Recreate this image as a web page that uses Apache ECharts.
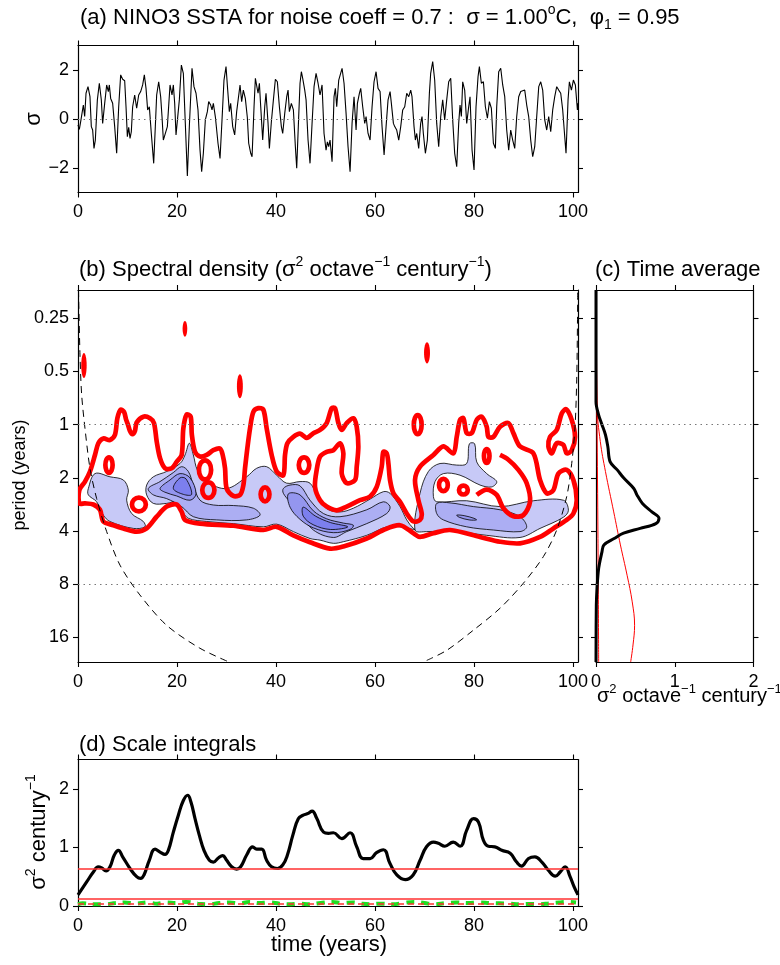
<!DOCTYPE html>
<html><head><meta charset="utf-8">
<script src="https://cdn.jsdelivr.net/npm/echarts@6/dist/echarts.min.js"></script>
<style>html,body{margin:0;padding:0;background:#fff}#chart{width:780px;height:965px}</style>
</head><body><div id="chart"></div>
<script>
// ---------------- DATA ----------------
const timeTicks = [0, 20, 40, 60, 80, 100];
const sstTicks = [-2, 0, 2];
const periodTicks = [0.25, 0.5, 1, 2, 4, 8, 16];
const periodLabels = ['0.25', '0.5', '1', '2', '4', '8', '16'];
const powerTicks = [0, 1, 2];
const integralTicks = [0, 1, 2];

// (a) NINO3 SSTA [time (yr), sigma]
const sstSeries = [[0.0,-0.24],[0.27,-0.42],[0.54,-0.11],[0.81,-0.18],[1.08,0.57],[1.35,0.10],[1.62,1.05],[2.02,1.32],[2.42,0.91],[2.69,-0.31],[2.96,-0.45],[3.23,-1.20],[3.50,-0.86],[3.91,0.78],[4.31,1.46],[4.71,0.78],[4.98,-0.18],[5.39,0.64],[5.79,1.39],[6.13,1.12],[6.33,1.39],[6.60,0.84],[7.00,0.64],[7.41,-0.31],[7.81,-1.40],[8.22,0.50],[8.62,1.80],[9.02,1.62],[9.43,1.56],[9.70,0.50],[9.97,-0.72],[10.24,-0.34],[10.51,-0.79],[10.77,-0.52],[11.04,0.50],[11.45,0.98],[11.85,0.44],[12.26,0.98],[12.66,1.12],[13.06,1.39],[13.40,1.80],[13.74,1.25],[14.07,0.37],[14.41,0.50],[14.81,-0.59],[15.29,-1.81],[15.62,-0.31],[15.89,0.98],[16.30,1.52],[16.70,0.91],[16.97,0.10],[17.24,-0.86],[17.64,-0.93],[18.05,-0.31],[18.59,1.39],[18.99,0.98],[19.26,1.39],[19.53,0.64],[19.80,-0.65],[20.07,-0.72],[20.47,0.78],[20.88,2.20],[21.28,1.86],[21.68,-0.18],[22.09,-2.33],[22.49,-0.31],[23.03,2.07],[23.43,1.32],[23.84,1.05],[24.24,0.37],[24.65,-1.27],[24.98,-2.15],[25.32,-1.40],[25.72,-0.04],[26.13,0.30],[26.40,0.71],[26.80,0.57],[27.07,0.37],[27.34,0.64],[27.74,0.10],[28.28,-0.99],[28.69,-1.61],[29.09,-0.04],[29.49,1.59],[29.90,2.14],[30.24,1.18],[30.57,0.30],[30.84,0.64],[31.25,-0.31],[31.65,-0.65],[32.05,0.30],[32.32,0.37],[32.73,1.39],[33.06,0.71],[33.40,1.18],[33.80,0.84],[34.21,0.05],[34.48,-0.99],[34.89,-1.40],[35.16,-1.54],[35.56,0.50],[35.83,1.66],[36.10,1.70],[36.37,1.05],[36.64,1.46],[36.91,0.50],[37.31,-0.86],[37.72,0.50],[37.98,1.05],[38.39,-0.18],[38.66,-1.20],[39.06,-0.11],[39.47,0.78],[39.87,1.62],[40.27,1.52],[40.68,0.50],[41.08,-0.31],[41.35,-0.59],[41.76,0.23],[42.16,0.91],[42.43,1.18],[42.70,0.30],[43.10,0.64],[43.51,0.37],[43.91,-1.13],[44.18,-2.01],[44.58,0.10],[44.85,1.46],[45.12,1.93],[45.39,1.66],[45.80,1.18],[46.07,0.78],[46.47,-0.86],[46.87,-1.81],[47.28,-0.18],[47.68,1.32],[48.09,1.86],[48.49,1.46],[48.89,0.98],[49.30,1.39],[49.70,-0.59],[50.11,-1.27],[50.38,-0.93],[50.64,-1.13],[50.91,-0.86],[51.32,-1.74],[51.72,0.91],[51.99,1.25],[52.26,0.50],[52.67,1.59],[52.93,1.66],[53.34,2.07],[53.74,1.46],[54.15,0.23],[54.55,-1.13],[54.96,-2.15],[55.36,-0.18],[55.76,0.91],[56.17,-0.45],[56.44,0.64],[56.84,1.05],[57.11,1.25],[57.51,0.50],[57.92,-0.18],[58.19,0.10],[58.59,-0.59],[59.00,-0.86],[59.40,0.50],[59.80,1.52],[60.21,1.93],[60.61,1.25],[61.02,1.12],[61.42,-0.31],[61.83,-1.47],[62.23,-0.31],[62.63,0.78],[63.04,1.12],[63.30,0.64],[63.71,-0.18],[63.98,-0.31],[64.38,-0.45],[64.79,-0.86],[65.19,-0.31],[65.59,0.37],[66.00,0.50],[66.40,1.05],[66.81,0.91],[67.21,1.18],[67.47,0.91],[67.88,-0.31],[68.15,-0.86],[68.42,-0.59],[68.82,-1.20],[69.22,-0.18],[69.49,0.10],[69.76,-0.59],[70.17,-1.40],[70.57,-0.86],[70.98,1.05],[71.24,1.86],[71.65,2.34],[72.05,1.59],[72.46,-0.18],[72.86,-1.13],[73.27,0.10],[73.67,0.78],[74.07,-0.04],[74.48,0.78],[74.88,1.52],[75.29,1.66],[75.69,-0.04],[76.09,-1.40],[76.50,-1.95],[76.90,-0.18],[77.17,0.57],[77.44,0.10],[77.71,1.52],[78.11,1.18],[78.52,-0.18],[78.92,0.50],[79.19,0.91],[79.60,-1.27],[80.00,-2.08],[80.40,0.50],[80.81,1.73],[81.08,2.14],[81.48,1.46],[81.89,1.52],[82.29,0.50],[82.70,0.03],[83.10,0.71],[83.50,0.44],[83.91,-0.99],[84.31,-1.20],[84.58,0.50],[84.98,1.93],[85.39,2.07],[85.79,1.39],[86.20,0.91],[86.60,-0.45],[87.00,-1.27],[87.41,-0.45],[87.81,-0.86],[88.22,-1.20],[88.62,0.10],[89.02,0.91],[89.43,1.12],[89.83,1.05],[90.24,1.18],[90.64,0.57],[91.04,0.10],[91.45,-0.86],[91.85,-1.54],[92.26,-1.13],[92.66,0.10],[93.07,1.32],[93.47,1.52],[93.87,1.18],[94.28,-0.04],[94.68,-0.45],[95.08,0.10],[95.49,-0.52],[95.89,0.37],[96.30,0.91],[96.70,1.32],[97.10,1.18],[97.51,1.05],[97.91,0.37],[98.32,-0.72],[98.58,-1.40],[98.99,0.78],[99.26,1.52],[99.67,1.18],[100.07,1.59],[100.47,1.39],[100.88,0.37],[101.0,0.64]];

// (b) contours: [time (yr), log2 period (octave)]
const blueLevel1 = [
 [[2.09,1.20],[3.43,0.92],[6.46,0.98],[9.16,1.04],[10.17,1.23],[9.83,1.42],[10.84,1.67],[13.2,1.82],[13.54,1.92],[11.18,1.95],[6.46,1.82],[5.12,1.70],[3.77,1.45],[2.09,1.32]],
 [[13.87,1.135],[15.22,0.98],[17.91,0.88],[20.61,0.73],[21.62,0.57],[22.49,0.35],[23.3,0.57],[24.1,0.85],[25.99,1.07],[30.03,1.20],[34.07,0.98],[36.09,0.82],[38.11,0.79],[40.13,0.95],[42.15,1.10],[44.85,1.07],[46.87,1.10],[48.4,1.35],[50.24,1.58],[52.93,1.64],[55.62,1.57],[58.99,1.40],[61.68,1.26],[63.03,1.29],[65.05,1.54],[66.4,1.79],[67.75,1.95],[68.42,1.98],[65.05,1.92],[62.36,1.92],[58.32,2.08],[53.6,2.20],[51.58,2.23],[48.89,2.17],[46.87,2.14],[43.5,2.01],[40.13,1.87],[37.44,1.92],[31.38,1.86],[25.99,1.82],[22.29,1.76],[20.94,1.61],[19.93,1.45],[17.91,1.48],[15.22,1.48],[13.87,1.32]],
 [[68.08,1.98],[69.09,1.29],[70.78,0.88],[73.13,0.73],[76.5,0.76],[78.52,0.73],[79.06,0.36],[80.13,0.36],[80.54,0.70],[82.56,0.92],[84.58,1.07],[83.57,1.17],[81.21,1.135],[77.17,0.95],[73.81,0.92],[72.12,1.07],[71.79,1.35],[72.46,1.45],[78.52,1.43],[85.25,1.54],[91.99,1.43],[98.05,1.42],[99.06,1.61],[98.05,1.74],[93.33,1.95],[89.29,2.12],[82.56,2.08],[75.15,1.99],[70.44,2.01]]
];
const blueLevel2 = [
 [[14.2,1.20],[16.57,1.07],[19.26,0.90],[20.94,0.79],[22.29,0.88],[23.3,1.135],[24.65,1.42],[27.34,1.51],[31.38,1.52],[35.42,1.57],[36.77,1.70],[34.07,1.79],[28.01,1.79],[23.3,1.73],[20.94,1.54],[17.91,1.39],[15.22,1.32]],
 [[41.48,1.20],[42.83,1.135],[44.85,1.15],[46.87,1.42],[49.56,1.67],[52.93,1.73],[58.32,1.60],[61.68,1.45],[63.03,1.54],[62.36,1.67],[58.32,1.86],[54.28,2.01],[51.58,2.12],[47.54,1.98],[44.85,1.66],[42.83,1.45],[41.48,1.29]],
 [[72.46,1.48],[75.15,1.47],[79.87,1.54],[85.25,1.60],[89.29,1.73],[90.64,1.92],[89.29,2.01],[83.91,1.98],[78.52,1.92],[73.81,1.79],[72.46,1.67]]
];
const blueLevel3 = [
 [[16.57,1.20],[18.59,1.04],[20.61,0.92],[22.63,1.00],[23.84,1.30],[22.63,1.42],[19.93,1.34],[17.58,1.27]],
 [[42.5,1.30],[44.85,1.32],[47.54,1.62],[50.24,1.77],[53.6,1.85],[55.62,1.89],[54.95,1.97],[51.58,2.03],[47.54,1.94],[44.85,1.78],[42.83,1.55]],
 [[76.5,1.70],[78,1.71],[80,1.76],[80.5,1.79],[79,1.79],[77,1.74]]
];
const blueLevel4 = [
 [[19.26,1.20],[20.61,1.00],[21.82,1.02],[22.96,1.31],[21.28,1.31]],
 [[45.5,1.55],[48,1.72],[51,1.84],[54.5,1.92],[51,1.97],[47.5,1.88],[45.5,1.72]]
];
const signifClosed = [
 [[0.27,1.48],[0.27,1.23],[1.41,1.07],[2.42,0.88],[3.43,0.57],[4.11,0.35],[5.12,0.26],[6.46,0.29],[7.47,0.19],[7.95,-0.12],[8.6,-0.28],[9.3,-0.24],[9.7,-0.10],[10.1,0.0],[10.5,0.12],[11.0,0.18],[11.5,0.12],[11.85,-0.04],[13.2,-0.15],[14.55,-0.12],[15.35,-0.03],[15.9,0.32],[16.57,0.63],[17.58,0.82],[18.92,0.82],[19.93,0.70],[20.94,0.57],[21.28,0.07],[21.95,-0.19],[22.76,-0.15],[23.0,0.19],[23.64,0.51],[24.65,0.60],[25.99,0.57],[27.34,0.48],[28.69,0.45],[29.23,0.57],[29.7,0.82],[30.03,1.20],[31.38,1.34],[32.73,1.32],[33.4,1.14],[33.74,0.82],[34.2,0.45],[34.75,0.07],[35.42,-0.24],[36.43,-0.31],[37.44,-0.28],[38.11,0.07],[39.12,0.57],[40.13,0.88],[41.48,0.95],[41.82,0.57],[42.3,0.35],[43.5,0.23],[44.85,0.17],[46.2,0.25],[47.54,0.16],[48.89,0.10],[50.24,-0.03],[51.25,-0.31],[51.92,-0.31],[52.59,-0.03],[53.27,0.10],[54.28,-0.03],[55.62,-0.12],[56.3,0.04],[56.63,0.41],[56.3,0.79],[55.96,1.04],[54.28,1.10],[53.27,0.92],[53.6,0.54],[52.93,0.35],[51.58,0.48],[50.24,0.51],[48.89,0.60],[48.22,0.85],[47.88,1.17],[48.89,1.42],[50.24,1.54],[52.26,1.61],[54.28,1.54],[56.97,1.42],[58.99,1.35],[60.34,1.17],[61.35,0.79],[61.68,0.51],[62.36,0.54],[62.7,0.73],[63.03,1.04],[63.71,1.29],[65.05,1.45],[66.4,1.67],[67.75,1.82],[69.09,1.79],[69.43,1.67],[68.76,1.42],[68.08,1.04],[69.09,0.79],[71.79,0.57],[73.81,0.41],[75.83,0.54],[76.5,0.23],[77.17,-0.09],[77.85,-0.12],[78.52,0.16],[79.53,0.16],[80.54,-0.09],[81.55,-0.15],[82.56,0.04],[82.9,0.23],[83.91,0.23],[85.25,0.04],[86.94,-0.03],[87.95,0.16],[89.29,0.41],[91.99,0.54],[93.33,1.04],[94.68,1.29],[96.03,1.23],[97.04,0.92],[98.72,0.85],[100.07,1.04],[100.74,1.42],[100.07,1.67],[98.72,1.79],[96.03,1.95],[93.33,2.11],[89.29,2.23],[85.25,2.20],[81.21,2.11],[75.15,1.98],[71.79,2.04],[69.09,2.11],[67.75,2.04],[65.05,1.89],[61.68,1.98],[58.32,2.14],[53.6,2.29],[50.91,2.33],[46.87,2.21],[43.5,2.08],[40.13,1.92],[37.44,1.98],[31.38,1.90],[24.65,1.86],[21.62,1.79],[20.94,1.64],[19.93,1.50],[17.91,1.54],[15.89,1.73],[13.87,1.95],[11.85,2.01],[9.16,1.95],[7.14,1.89],[5.12,1.82],[4.44,1.60],[3.1,1.50],[1.41,1.48]],
 [[95.02,0.41],[95.35,0.23],[96.7,0.10],[97.71,-0.21],[98.6,-0.29],[99.73,-0.09],[100.4,0.23],[99.73,0.48],[98.72,0.54],[98.05,0.38],[96.7,0.35],[95.69,0.54]]
];
const signifOpen = [
 [[80.54,1.32],[82.56,1.22],[84.58,1.32],[85.93,1.57],[87.95,1.72],[89.96,1.70],[91.31,1.45],[90.64,1.10],[88.96,0.85],[86.94,0.66],[85.25,0.57]]
];
// small closed significance loops: [time, octave, half-width (yr), half-height (octave)]
const signifRings = [[6.26,0.76,0.73,0.146],[12.3,1.50,1.4,0.13],[25.66,0.85,1.23,0.18],[26.33,1.23,1.23,0.146],[37.78,1.31,0.89,0.13],[45.66,0.76,1.06,0.146],[68.62,0.0,0.79,0.18],[82.56,0.59,0.56,0.13],[73.81,1.135,0.89,0.115],[77.85,1.23,0.89,0.083]];
const signifBlobs = [[1.2,-1.11,0.55,0.235],[21.6,-1.80,0.47,0.147],[32.7,-0.72,0.6,0.225],[70.5,-1.35,0.6,0.2]];
// cone of influence [time, octave]
const coiLeft = [[0.1,-2.53],[0.4,-1.31],[0.74,-0.56],[1.41,0.07],[2.42,0.82],[3.77,1.39],[5.79,2.01],[8.48,2.64],[12.5,3.2],[17.9,3.77],[24.6,4.2],[30.5,4.46]];
const coiRight = [[70.44,4.43],[74.5,4.24],[79.9,3.86],[85.25,3.45],[89.96,2.98],[94,2.48],[96.7,1.98],[98.72,1.35],[99.73,0.73],[100.4,0.04],[100.74,-0.84],[100.9,-1.97],[100.95,-2.53]];

// (c) time average [power, octave]
const globalPower = [[0,-2.53],[0,-0.43],[0.034,-0.18],[0.076,0.0],[0.12,0.19],[0.15,0.41],[0.18,0.70],[0.27,0.85],[0.35,1.0],[0.48,1.2],[0.52,1.32],[0.59,1.48],[0.71,1.64],[0.80,1.76],[0.76,1.86],[0.56,1.95],[0.35,2.04],[0.23,2.14],[0.10,2.26],[0.076,2.39],[0.034,2.70],[0.013,3.08],[0.004,3.39],[0,4.46]];
const globalSignif = [[0,-2.53],[0.013,-0.37],[0.055,0.32],[0.12,0.88],[0.225,1.64],[0.31,2.26],[0.395,2.83],[0.46,3.33],[0.49,3.77],[0.47,4.14],[0.44,4.46]];
const globalRed = [[0,-2.53],[0.013,-0.06],[0.025,2.14],[0.034,4.46]];

// (d) scale integrals [time, sigma^2 / century]
const scaleIntegral = [[0,0.19],[1.75,0.41],[3.1,0.58],[4.1,0.67],[4.8,0.65],[5.66,0.60],[6.46,0.67],[7.34,0.87],[8.15,0.95],[9.02,0.84],[10.5,0.64],[11.85,0.50],[12.66,0.47],[13.33,0.53],[14.4,0.78],[15.56,0.97],[16.57,0.92],[17.58,0.88],[18.25,0.95],[19.26,1.26],[20.27,1.55],[21.28,1.80],[22.15,1.89],[22.83,1.77],[23.64,1.49],[24.5,1.21],[25.45,0.95],[26.53,0.78],[27.34,0.75],[28.35,0.82],[29.23,0.86],[30.03,0.78],[31.04,0.67],[32.05,0.63],[32.86,0.67],[34.07,0.87],[35.29,1.01],[36.09,0.97],[37.1,0.97],[38.1,0.78],[39.1,0.67],[40.27,0.64],[41.35,0.70],[42.3,0.87],[43.4,1.21],[44.5,1.49],[45.5,1.55],[46.5,1.58],[47.3,1.62],[48.2,1.50],[49.6,1.26],[50.6,1.24],[51.6,1.25],[53.3,1.15],[54.95,1.25],[56.3,1.01],[57.6,0.81],[59.0,0.81],[60.3,0.91],[61.7,0.96],[63.0,0.73],[64.4,0.53],[66.1,0.45],[67.7,0.53],[69.1,0.78],[70.4,1.01],[71.8,1.09],[72.8,1.07],[74.1,1.02],[75.8,1.09],[77.2,1.02],[78.5,1.29],[79.9,1.49],[80.9,1.43],[81.9,1.12],[82.9,1.02],[84.2,1.01],[85.6,0.95],[87.3,0.90],[88.6,0.75],[89.6,0.68],[91.0,0.81],[92.3,0.84],[93.7,0.75],[95.0,0.61],[96.4,0.51],[97.4,0.58],[98.4,0.67],[99.4,0.50],[100.2,0.33],[101,0.19]];
const highFreqIntegral = [[0,0.03],[0.94,0.045],[3.3,0.03],[5.66,0.03],[7.5,0.05],[9.36,0.06],[11.7,0.04],[14.07,0.06],[16,0.04],[17.78,0.06],[19.8,0.05],[21.8,0.07],[24.2,0.04],[26.5,0.03],[28.5,0.05],[30.6,0.06],[32.6,0.04],[34.6,0.07],[36.6,0.05],[38.65,0.06],[40.7,0.04],[42.7,0.03],[44.7,0.04],[46.7,0.03],[49,0.05],[51.4,0.07],[53.4,0.05],[55.5,0.06],[57.2,0.04],[58.9,0.03],[61.2,0.04],[63.6,0.03],[65.7,0.05],[67.9,0.07],[70,0.05],[72.0,0.03],[74.2,0.05],[76.4,0.06],[78.7,0.05],[81.1,0.06],[83.1,0.05],[85.1,0.045],[87.1,0.04],[89.2,0.03],[91.2,0.035],[93.2,0.03],[95.2,0.045],[97.2,0.06],[98.9,0.07],[100.6,0.06]];
const integralSignifLevels = [0.635, 0.115];
const integralSignifDashed = [0.04];
const periodGuides = [1, 8];

// ---------------- CHART ----------------
const FONT = '"Liberation Sans", Arial, Helvetica, sans-serif';
const octTicks = periodTicks.map(p => Math.log2(p));
const octGuides = periodGuides.map(p => Math.log2(p));
const OCT_MIN = -2.53, OCT_MAX = 4.46;

function periodFmt(v) {
  let best = 0;
  octTicks.forEach((o, i) => { if (Math.abs(o - v) < Math.abs(octTicks[best] - v)) best = i; });
  return periodLabels[best];
}
function axis(kind, grid, min, max, ticks, pos, labels, extra) {
  const a = {
    type: 'value', gridIndex: grid, min: min, max: max, position: pos,
    axisLine: {show: true, onZero: false, lineStyle: {color: '#000', width: 1.2}},
    axisTick: {show: true, inside: false, length: 5, customValues: ticks, lineStyle: {color: '#000', width: 1.1}},
    axisLabel: {show: !!labels, customValues: ticks, margin: kind === 'x' ? 11 : 9, color: '#000', fontSize: 18, fontFamily: FONT,
      formatter: typeof labels === 'function' ? labels : (v => String(v).replace('-', '\u2212'))},
    splitLine: {show: false}, splitArea: {show: false}
  };
  return Object.assign(a, extra || {});
}
function guides(vals, color) {
  return {silent: true, symbol: ['none', 'none'], label: {show: false}, animation: false,
    lineStyle: {color: color || '#777', type: [1.5, 4], width: 1}, emphasis: {disabled: true},
    data: vals.map(v => ({yAxis: v}))};
}
function polyLayer(list, style, closed, smooth) {
  return {
    type: 'custom', xAxisIndex: 2, yAxisIndex: 2, clip: true, silent: true, animation: false,
    data: list.map((p, i) => [p[0][0], p[0][1], i]),
    renderItem: function (params, api) {
      const pts = list[params.dataIndex].map(q => api.coord(q));
      return {type: closed ? 'polygon' : 'polyline', shape: {points: pts, smooth: smooth}, style: Object.assign({}, style)};
    }
  };
}
function ellipseLayer(list, style) {
  return {
    type: 'custom', xAxisIndex: 2, yAxisIndex: 2, clip: true, silent: true, animation: false,
    data: list,
    renderItem: function (params, api) {
      const c = api.coord([api.value(0), api.value(1)]);
      const s = api.size([api.value(2), api.value(3)]);
      return {type: 'ellipse', shape: {cx: c[0], cy: c[1], rx: s[0], ry: s[1]}, style: Object.assign({}, style)};
    }
  };
}
const blueColors = ['#c7c9f7', '#acaef3', '#9496ef', '#7c7fee'];
const blueStyle = i => ({fill: blueColors[i], stroke: '#000', lineWidth: 0.8});
const redStroke = {fill: 'none', stroke: '#ff0000', lineWidth: 4.7, lineJoin: 'round'};

function richFor(size) {
  const s = Math.round(size * 0.64);
  return {
    sup: {fontSize: s, fontFamily: FONT, fill: '#000', verticalAlign: 'top', lineHeight: s},
    sub: {fontSize: s, fontFamily: FONT, fill: '#000', verticalAlign: 'bottom', lineHeight: s}
  };
}
function txt(x, y, text, size, align, rot) {
  return {type: 'text', x: x, y: y, rotation: rot || 0, silent: true, z: 100,
    style: {text: text, fontSize: size, fontFamily: FONT, fill: '#000', lineHeight: Math.round(size * 1.3),
      align: align || 'left', verticalAlign: 'middle', rich: richFor(size)}};
}

const option = {
  animation: false,
  backgroundColor: '#fff',
  grid: [
    {left: 78, top: 45.5, width: 500, height: 147},
    {left: 78, top: 290, width: 500, height: 372},
    {left: 596, top: 290, width: 157.5, height: 372},
    {left: 78, top: 759.5, width: 500, height: 146.5}
  ],
  xAxis: [
    axis('x', 0, 0, 101, timeTicks, 'bottom', true), axis('x', 0, 0, 101, timeTicks, 'top', false),
    axis('x', 1, 0, 101, timeTicks, 'bottom', true), axis('x', 1, 0, 101, timeTicks, 'top', false),
    axis('x', 2, 0, 2, powerTicks, 'bottom', true), axis('x', 2, 0, 2, powerTicks, 'top', false),
    axis('x', 3, 0, 101, timeTicks, 'bottom', true), axis('x', 3, 0, 101, timeTicks, 'top', false)
  ],
  yAxis: [
    axis('y', 0, -3, 3, sstTicks, 'left', true), axis('y', 0, -3, 3, sstTicks, 'right', false),
    axis('y', 1, OCT_MIN, OCT_MAX, octTicks, 'left', periodFmt, {inverse: true}),
    axis('y', 1, OCT_MIN, OCT_MAX, octTicks, 'right', false, {inverse: true}),
    axis('y', 2, OCT_MIN, OCT_MAX, octTicks, 'left', false, {inverse: true}),
    axis('y', 2, OCT_MIN, OCT_MAX, octTicks, 'right', false, {inverse: true}),
    axis('y', 3, 0, 2.5, integralTicks, 'left', true), axis('y', 3, 0, 2.5, integralTicks, 'right', false)
  ],
  graphic: [
    txt(80, 18, '(a) NINO3 SSTA for noise coeff = 0.7 :  \u03c3 = 1.00{sup|o}C,  \u03c6{sub|1} = 0.95', 22),
    txt(79, 270, '(b) Spectral density (\u03c3{sup|2} octave{sup|\u22121} century{sup|\u22121})', 22),
    txt(595, 270, '(c) Time average', 22),
    txt(79, 745, '(d) Scale integrals', 22),
    txt(34, 119, '\u03c3', 22, 'center', Math.PI / 2),
    txt(20, 475, 'period (years)', 18, 'center', Math.PI / 2),
    txt(39, 832, '\u03c3{sup|2} century{sup|\u22121}', 22, 'center', Math.PI / 2),
    txt(329, 945, 'time (years)', 22, 'center'),
    txt(597, 696, '\u03c3{sup|2} octave{sup|\u22121} century{sup|\u22121}', 20)
  ],
  series: [
    // (a)
    {type: 'line', xAxisIndex: 0, yAxisIndex: 0, data: sstSeries, symbol: 'none', silent: true,
     lineStyle: {color: '#000', width: 1.1}, markLine: guides([0])},
    // (b) filled power levels
    polyLayer(blueLevel1, blueStyle(0), true, 0.35),
    polyLayer(blueLevel2, blueStyle(1), true, 0.35),
    polyLayer(blueLevel3, blueStyle(2), true, 0.35),
    polyLayer(blueLevel4, blueStyle(3), true, 0.35),
    // (b) significance contours
    polyLayer(signifClosed, redStroke, true, 0.3),
    polyLayer(signifOpen, redStroke, false, 0.3),
    ellipseLayer(signifRings, redStroke),
    ellipseLayer(signifBlobs, {fill: '#ff0000', stroke: 'none'}),
    // (b) cone of influence
    {type: 'line', xAxisIndex: 2, yAxisIndex: 2, data: coiLeft, symbol: 'none', silent: true, smooth: 0.3,
     lineStyle: {color: '#000', width: 1, type: [7, 5]}, markLine: guides(octGuides)},
    {type: 'line', xAxisIndex: 2, yAxisIndex: 2, data: coiRight, symbol: 'none', silent: true, smooth: 0.3,
     lineStyle: {color: '#000', width: 1, type: [7, 5]}},
    // (c)
    {type: 'line', xAxisIndex: 4, yAxisIndex: 4, data: globalSignif, symbol: 'none', silent: true, smooth: 0.4,
     lineStyle: {color: '#ff0000', width: 1}, markLine: guides(octGuides)},
    {type: 'line', xAxisIndex: 4, yAxisIndex: 4, data: globalRed, symbol: 'none', silent: true, smooth: 0.4,
     lineStyle: {color: '#ff0000', width: 1}},
    {type: 'line', xAxisIndex: 4, yAxisIndex: 4, data: globalPower, symbol: 'none', silent: true, smooth: 0.35,
     lineStyle: {color: '#000', width: 3}},
    // (d)
    {type: 'line', xAxisIndex: 6, yAxisIndex: 6, data: highFreqIntegral, symbol: 'none', silent: true, smooth: 0.4,
     lineStyle: {color: '#22dd22', width: 4, type: [8, 7]},
     markLine: {silent: true, symbol: ['none', 'none'], label: {show: false}, animation: false, emphasis: {disabled: true},
       lineStyle: {color: '#ff3030', width: 1.5, type: 'solid'},
       data: integralSignifLevels.map(v => ({yAxis: v})).concat(
             integralSignifDashed.map(v => ({yAxis: v, lineStyle: {type: [6, 4], color: '#ff3030', width: 1.5}})))}},
    {type: 'line', xAxisIndex: 6, yAxisIndex: 6, data: scaleIntegral, symbol: 'none', silent: true, smooth: 0.45,
     lineStyle: {color: '#000', width: 3.2}}
  ]
};
const chart = echarts.init(document.getElementById('chart'), null, {renderer: 'canvas'});
chart.setOption(option);
</script></body></html>
